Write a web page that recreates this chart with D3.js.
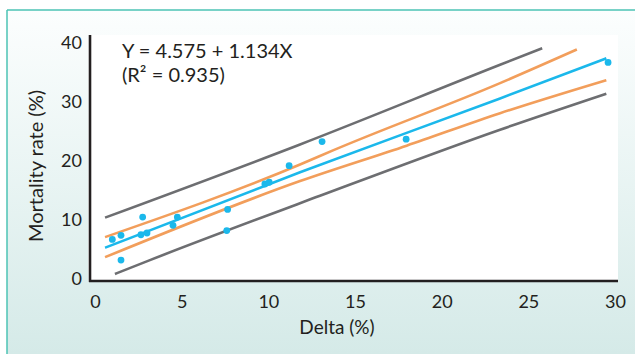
<!DOCTYPE html>
<html>
<head>
<meta charset="utf-8">
<script src="https://cdn.jsdelivr.net/npm/d3@7"></script>
<style>
  html, body { margin: 0; padding: 0; background: #fff; }
  text { font-family: Lato, "Open Sans", sans-serif; fill: #231f20; }
</style>
</head>
<body>
<div id="chart"></div>
<script>
// Observed points
const deltaValues = [1.0, 1.5, 1.5, 2.75, 2.65, 3.0, 4.5, 4.75, 7.65, 7.6, 9.8, 10.05, 11.2, 13.1, 17.95, 29.6];
const mortalityValues = [6.7, 7.4, 3.2, 10.5, 7.5, 7.8, 9.1, 10.5, 11.8, 8.2, 16.1, 16.4, 19.2, 23.3, 23.7, 36.7];

// Fitted line and bands as [delta, mortality]
const fitLine = [[0.58, 5.3], [11.83, 18.1], [23.37, 30.6], [29.5, 37.4]];
const confUpper = [[0.58, 7.1], [11.83, 19.4], [13.73, 21.8], [23.37, 33.2], [27.8, 38.9]];
const confLower = [[0.58, 3.7], [11.83, 16.6], [17.98, 22.6], [23.37, 28.1], [29.5, 33.7]];
const predUpper = [[0.58, 10.4], [11.83, 22.8], [23.37, 36.3], [25.8, 39.1]];
const predLower = [[1.15, 0.85], [3.17, 3.2], [12.98, 14.1], [23.37, 25.3], [29.5, 31.4]];

const xTicks = [0, 5, 10, 15, 20, 25, 30];
const yTicks = [0, 10, 20, 30, 40];
const equationLines = ["Y = 4.575 + 1.134X", "(R² = 0.935)"];

const width = 635;
const height = 354;

const svg = d3.select("#chart")
  .append("svg")
  .attr("width", width)
  .attr("height", height);

// Background panel with a soft vertical gradient
const grad = svg.append("defs").append("linearGradient")
  .attr("id", "panelGrad")
  .attr("x1", 0).attr("y1", 0).attr("x2", 0).attr("y2", 1);
grad.append("stop").attr("offset", "0%").attr("stop-color", "#fcfefe");
grad.append("stop").attr("offset", "100%").attr("stop-color", "#d5eae8");

svg.append("rect")
  .attr("x", 7).attr("y", 10)
  .attr("width", width - 7).attr("height", height - 10)
  .style("fill", "url(#panelGrad)");

svg.append("line")
  .attr("x1", 7).attr("y1", 10).attr("x2", width).attr("y2", 10)
  .style("stroke", "#4dc3b4").style("stroke-width", 1.5);
svg.append("line")
  .attr("x1", 7).attr("y1", 10).attr("x2", 7).attr("y2", height)
  .style("stroke", "#4dc3b4").style("stroke-width", 1.5);

// Scales
const x = d3.scaleLinear().domain([0, 30]).range([95, 615]);
const y = d3.scaleLinear().domain([0, 40]).range([279, 43]);

// White plot area
svg.append("rect")
  .attr("x", 88).attr("y", 35)
  .attr("width", 530).attr("height", 247)
  .style("fill", "#fff");

// Lines
const line = d3.line()
  .x(d => x(d[0]))
  .y(d => y(d[1]))
  .curve(d3.curveMonotoneX);

const series = [
  { pts: predUpper, color: "#6d6e71" },
  { pts: predLower, color: "#6d6e71" },
  { pts: confUpper, color: "#f29e5b" },
  { pts: confLower, color: "#f29e5b" },
  { pts: fitLine, color: "#1bb8eb" }
];

svg.selectAll(".band")
  .data(series)
  .enter()
  .append("path")
  .attr("class", "band")
  .attr("d", d => line(d.pts))
  .style("fill", "none")
  .style("stroke", d => d.color)
  .style("stroke-width", 2.6);

// Points
svg.selectAll(".pt")
  .data(deltaValues)
  .enter()
  .append("circle")
  .attr("class", "pt")
  .attr("cx", d => x(d))
  .attr("cy", (d, i) => y(mortalityValues[i]))
  .attr("r", 3.4)
  .style("fill", "#1bb8eb");

// Axes
const xAxis = d3.axisBottom(x).tickValues(xTicks).tickSize(0).tickPadding(14);
const gx = svg.append("g")
  .attr("transform", "translate(0,281)")
  .call(xAxis);
gx.select(".domain").remove();
gx.selectAll("text").style("font-size", "18px").attr("font-family", null);

const yAxis = d3.axisLeft(y).tickValues(yTicks).tickSize(0).tickPadding(8);
const gy = svg.append("g")
  .attr("transform", "translate(90,0)")
  .call(yAxis);
gy.select(".domain").remove();
gy.selectAll("text").style("font-size", "18px").attr("font-family", null);

svg.append("line")
  .attr("x1", 89).attr("y1", 281).attr("x2", 618).attr("y2", 281)
  .style("stroke", "#231f20").style("stroke-width", 2.6);
svg.append("line")
  .attr("x1", 90).attr("y1", 35).attr("x2", 90).attr("y2", 282)
  .style("stroke", "#231f20").style("stroke-width", 2.6);

// Axis titles
svg.append("text")
  .attr("x", 337).attr("y", 334)
  .attr("text-anchor", "middle")
  .style("font-size", "19px")
  .text("Delta (%)");

svg.append("text")
  .attr("transform", "translate(43,166) rotate(-90)")
  .attr("text-anchor", "middle")
  .style("font-size", "20px")
  .text("Mortality rate (%)");

// Equation
svg.selectAll(".eq")
  .data(equationLines)
  .enter()
  .append("text")
  .attr("class", "eq")
  .attr("x", 122)
  .attr("y", (d, i) => 58 + i * 24)
  .style("font-size", "20px")
  .text(d => d);
</script>
</body>
</html>
